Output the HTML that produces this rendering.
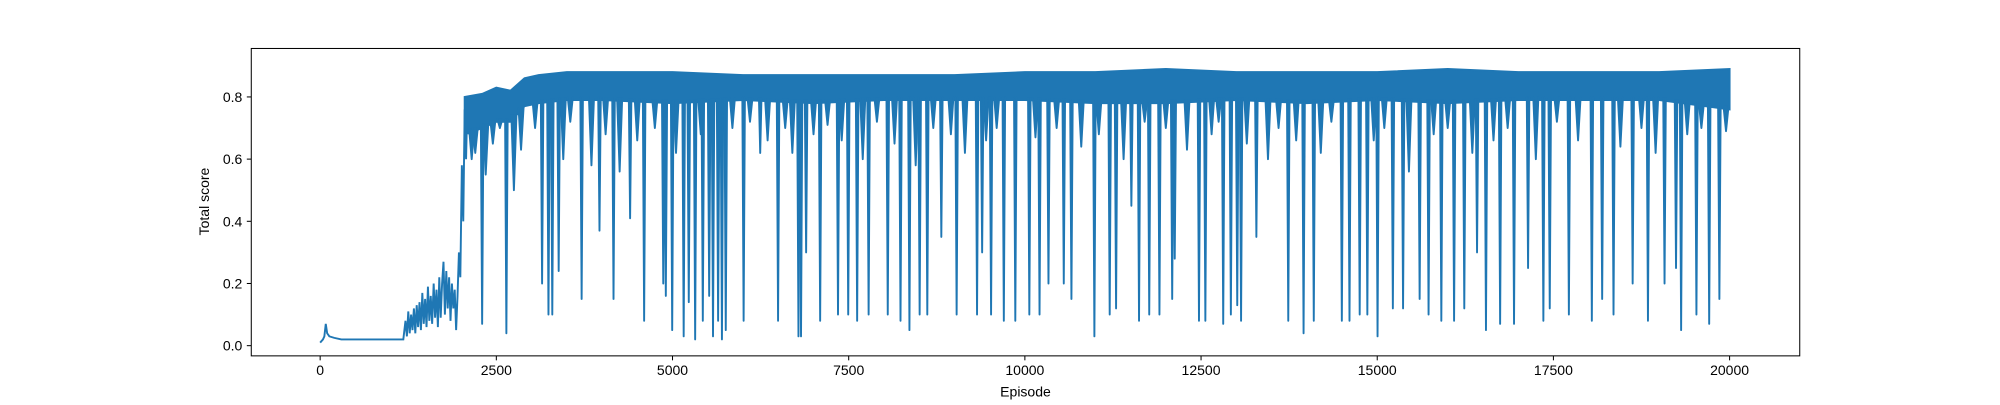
<!DOCTYPE html>
<html><head><meta charset="utf-8"><style>
html,body{margin:0;padding:0;background:#fff;}
svg text{font-family:"Liberation Sans","DejaVu Sans",sans-serif;font-size:11px;fill:#000;}
</style></head><body>
<svg id="chart" width="2000" height="400" viewBox="0 0 1568 313.6">
<g id="plot"></g>
<rect x="197" y="38" width="1214" height="241" fill="none" stroke="#000" stroke-width="0.8"/>
<g id="xticks"></g>
<g id="yticks"></g>
<text x="804" y="311" text-anchor="middle">Episode</text>
<text transform="translate(164,158) rotate(-90)" text-anchor="middle">Total score</text>
</svg>
<script>
const xTicks=[0,2500,5000,7500,10000,12500,15000,17500,20000];
const yTicks=[0.0,0.2,0.4,0.6,0.8];
const earlyEpisodes=[0,40,60,80,100,130,200,300,600,900,1180,1210,1230,1250,1270,1290,1310,1330,1350,1370,1390,1410,1430,1450,1470,1490,1510,1530,1550,1570,1590,1610,1630,1650,1670,1690,1710,1730,1750,1770,1790,1810,1830,1850,1870,1890,1910,1930,1950,1970,1990,2010,2030,2050,2070,2090,2110];
const earlyScores=[0.01,0.02,0.03,0.07,0.04,0.03,0.025,0.02,0.02,0.02,0.02,0.08,0.03,0.11,0.04,0.1,0.05,0.12,0.04,0.13,0.06,0.14,0.05,0.17,0.07,0.15,0.06,0.19,0.08,0.16,0.07,0.2,0.09,0.18,0.06,0.22,0.09,0.2,0.27,0.1,0.24,0.12,0.22,0.08,0.2,0.12,0.18,0.05,0.16,0.3,0.22,0.58,0.4,0.76,0.6,0.8,0.68];
const bandEpisodes=[2050,2300,2500,2700,2900,3100,3500,4000,5000,6000,7000,8000,9000,10000,11000,12000,13000,14000,15000,16000,17000,18000,19000,20000];
const bandTop=[0.80,0.81,0.83,0.82,0.86,0.87,0.88,0.88,0.88,0.87,0.87,0.87,0.87,0.88,0.88,0.89,0.88,0.88,0.88,0.89,0.88,0.88,0.88,0.89];
const bandBottom=[0.68,0.70,0.72,0.72,0.77,0.78,0.79,0.79,0.78,0.79,0.78,0.79,0.79,0.79,0.78,0.78,0.79,0.78,0.79,0.78,0.79,0.79,0.79,0.76];
const dipEpisodes=[2299,2643,3149,3240,3294,3385,3711,3964,4163,4398,4597,4869,4905,4996,5159,5231,5321,5430,5521,5575,5647,5702,5756,6009,6245,6498,6788,6824,6896,7095,7349,7493,7620,7783,8055,8236,8362,8507,8616,8815,9032,9322,9394,9521,9702,9865,10064,10208,10335,10552,10661,10987,11204,11294,11512,11620,11765,11910,12091,12127,12471,12561,12815,12923,13014,13068,13285,13738,13955,14100,14498,14607,14752,14860,15005,15222,15367,15602,15729,15910,16091,16236,16417,16543,16743,16942,17141,17358,17448,17720,18046,18191,18353,18625,18842,19077,19240,19313,19530,19711,19856];
const dipScores=[0.07,0.04,0.2,0.1,0.1,0.24,0.15,0.37,0.15,0.41,0.08,0.2,0.16,0.05,0.03,0.14,0.02,0.08,0.16,0.03,0.08,0.02,0.05,0.08,0.62,0.08,0.03,0.03,0.3,0.08,0.1,0.1,0.08,0.1,0.1,0.08,0.05,0.1,0.1,0.35,0.1,0.1,0.3,0.1,0.08,0.08,0.1,0.1,0.2,0.2,0.15,0.03,0.1,0.12,0.45,0.08,0.1,0.1,0.15,0.28,0.08,0.08,0.07,0.1,0.13,0.08,0.35,0.08,0.04,0.08,0.08,0.08,0.1,0.1,0.03,0.12,0.12,0.15,0.1,0.08,0.08,0.12,0.3,0.05,0.07,0.07,0.25,0.08,0.12,0.1,0.08,0.15,0.1,0.2,0.08,0.2,0.25,0.05,0.1,0.07,0.15];
const shallowEpisodes=[2150,2200,2350,2450,2550,2750,2850,3050,3450,3550,3850,4050,4250,4500,4750,5050,5400,5850,6100,6350,6600,6700,7000,7200,7400,7700,7900,8150,8450,8700,8950,9150,9450,9600,10150,10450,10800,11050,11400,11700,12000,12300,12650,12750,13150,13450,13600,13850,14200,14350,14950,15100,15450,15800,16000,16350,16650,16850,17250,17550,17850,18450,18750,18950,19400,19600,19950];
const shallowScores=[0.6,0.62,0.55,0.65,0.7,0.5,0.63,0.7,0.6,0.72,0.58,0.68,0.56,0.66,0.7,0.62,0.68,0.7,0.72,0.66,0.7,0.62,0.68,0.71,0.66,0.6,0.72,0.65,0.58,0.7,0.68,0.62,0.66,0.7,0.67,0.7,0.64,0.68,0.6,0.72,0.7,0.63,0.68,0.72,0.65,0.6,0.7,0.66,0.62,0.72,0.66,0.7,0.56,0.68,0.7,0.62,0.66,0.7,0.6,0.72,0.66,0.64,0.7,0.62,0.68,0.7,0.69];

const NS='http://www.w3.org/2000/svg';
const xs=e=>251+e*(1105/20000);
const ys=v=>271-v*243.75;
const C='#1f77b4';
function mk(tag,attrs,parent){const el=document.createElementNS(NS,tag);for(const k in attrs)el.setAttribute(k,attrs[k]);parent.appendChild(el);return el;}
function interp(arr,e){
  if(e<=bandEpisodes[0])return arr[0];
  for(let i=1;i<bandEpisodes.length;i++){if(e<=bandEpisodes[i]){const t=(e-bandEpisodes[i-1])/(bandEpisodes[i]-bandEpisodes[i-1]);return arr[i-1]+t*(arr[i]-arr[i-1]);}}
  return arr[arr.length-1];
}
const plot=document.getElementById('plot');
let d='';
earlyEpisodes.forEach((e,i)=>{d+=(i?'L':'M')+xs(e).toFixed(1)+','+ys(earlyScores[i]).toFixed(1);});
const early=mk('path',{d:d,fill:'none',stroke:C,'stroke-width':1.5},plot);


let bd='';
bandEpisodes.forEach((e,i)=>{bd+=(i?'L':'M')+xs(e).toFixed(1)+','+ys(bandTop[i]).toFixed(1);});
for(let i=bandEpisodes.length-1;i>=0;i--){bd+='L'+xs(bandEpisodes[i]).toFixed(1)+','+ys(bandBottom[i]).toFixed(1);}
bd+='Z';
const band=mk('path',{d:bd,fill:C,stroke:C,'stroke-width':1.5},plot);


function drawDip(e,v,name,w){
  const x=xs(e);
  const y0=ys(interp(bandBottom,e)+0.01);
  const ln=mk('path',{d:'M'+(x-w).toFixed(1)+','+y0.toFixed(1)+'L'+x.toFixed(1)+','+ys(v).toFixed(1)+'L'+(x+w).toFixed(1)+','+y0.toFixed(1),fill:C,stroke:C,'stroke-width':1.5,'stroke-linejoin':'round'},plot);
  
  
}
shallowEpisodes.forEach((e,i)=>drawDip(e,shallowScores[i],'shallow-score-dip',2));
dipEpisodes.forEach((e,i)=>drawDip(e,dipScores[i],'score-dip',1));
const xt=document.getElementById('xticks');
xTicks.forEach(v=>{
  const x=xs(v);
  const t=mk('line',{x1:x,x2:x,y1:279,y2:282.5,stroke:'#000','stroke-width':0.8},xt);
  
  
  const l=mk('text',{x:x,y:294,'text-anchor':'middle'},xt);l.textContent=String(v);
  
  
});
const yt=document.getElementById('yticks');
yTicks.forEach(v=>{
  const y=ys(v);
  const t=mk('line',{x1:193.5,x2:197,y1:y,y2:y,stroke:'#000','stroke-width':0.8},yt);
  
  
  const l=mk('text',{x:190,y:y+4,'text-anchor':'end'},yt);l.textContent=v.toFixed(1);
  
  
});
</script>
</body></html>
